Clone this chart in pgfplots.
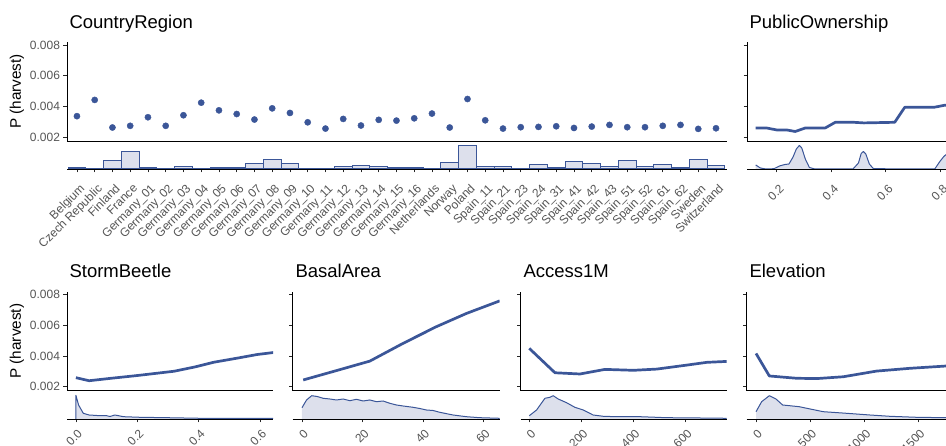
\documentclass[border=0pt]{standalone}
\usepackage{fontspec}
\setmainfont{Liberation Sans}
\usepackage{pgfplots}
\pgfplotsset{compat=1.18}
\definecolor{bl}{RGB}{59,86,152}
\definecolor{fl}{RGB}{221,224,236}
\definecolor{gr}{RGB}{85,85,85}
\pgfplotsset{
  base/.style={scale only axis, tick align=outside, major tick length=3.5pt,
    axis line style={line width=0.8pt,-}, every tick/.style={line width=0.6pt,black!85},
    ticklabel style={font=\fontsize{12}{12}\selectfont, text=gr},
    /pgf/number format/assume math mode=true, scaled ticks=false},
  mainax/.style={base, axis x line*=bottom, axis y line*=left, xtick=\empty,
    ymin=0.00174, ymax=0.0082, height=99pt,
    ytick={0.002,0.004,0.006,0.008}, yticklabels={0.002,0.004,0.006,0.008}},
  mainnl/.style={mainax, yticklabels={}},
  denax/.style={base, axis x line*=bottom, axis y line=none, ymin=0, ytick=\empty},
  denT/.style={denax, xticklabel style={yshift=-8.5pt, xshift=2pt, rotate=45, anchor=north east, inner sep=1.5pt}},
  denB/.style={denax, xticklabel style={yshift=-3.5pt, xshift=1pt, rotate=45, anchor=north east, inner sep=1.5pt}},
  ln/.style={bl, line width=2.7pt, line join=round},
  dl/.style={bl, line width=1pt, line join=round},
  df/.style={fill=fl, draw=none},
}
\begin{document}
\begin{tikzpicture}
\useasboundingbox (0,0) rectangle (946pt,446pt);
% ---------------- CountryRegion ----------------
\begin{axis}[mainax, width=660pt, at={(67pt,305pt)}, anchor=south west, xmin=-0.56, xmax=36.62]
\addplot[only marks, mark=*, mark size=3.1pt, color=bl] coordinates {
(0,0.00336)(1,0.00442)(2,0.00262)(3,0.00273)(4,0.00329)(5,0.00273)(6,0.00342)(7,0.00424)
(8,0.00374)(9,0.00350)(10,0.00314)(11,0.00387)(12,0.00357)(13,0.00296)(14,0.00255)(15,0.00318)
(16,0.00275)(17,0.00312)(18,0.00307)(19,0.00322)(20,0.00353)(21,0.00262)(22,0.00448)(23,0.00309)
(24,0.00255)(25,0.00264)(26,0.00266)(27,0.00270)(28,0.00259)(29,0.00268)(30,0.00279)(31,0.00264)
(32,0.00264)(33,0.00273)(34,0.00279)(35,0.00253)(36,0.00257)};
\end{axis}
\begin{axis}[denT, width=660pt, height=26pt, ymax=26, at={(67pt,277pt)}, anchor=south west,
  xmin=-0.56, xmax=36.62, xtick={0,...,36},
  xticklabels={Belgium,Czech Republic,Finland,France,Germany\_01,Germany\_02,Germany\_03,Germany\_04,Germany\_05,Germany\_06,Germany\_07,Germany\_08,Germany\_09,Germany\_10,Germany\_11,Germany\_12,Germany\_13,Germany\_14,Germany\_15,Germany\_16,Netherlands,Norway,Poland,Spain\_11,Spain\_21,Spain\_23,Spain\_24,Spain\_31,Spain\_41,Spain\_42,Spain\_43,Spain\_51,Spain\_52,Spain\_61,Spain\_62,Sweden,Switzerland}]
\addplot[ybar, bar width=1, draw=bl, fill=fl, line width=1pt] coordinates {
(0,1.5)(1,0.6)(2,8.8)(3,17.8)(4,1.5)(5,0.3)(6,2.9)(7,0.3)(8,1.7)(9,1.7)(10,5.5)(11,9.2)(12,5.2)
(13,0.3)(14,0.3)(15,2.3)(16,3.9)(17,2.0)(18,1.5)(19,1.7)(20,0.3)(21,6.5)(22,23.2)(23,2.9)(24,2.3)
(25,0.8)(26,4.2)(27,1.5)(28,7.2)(29,5.5)(30,2.6)(31,8.8)(32,2.9)(33,4.8)(34,1.7)(35,9.2)(36,3.6)};
\end{axis}
\node[anchor=base west, font=\fontsize{18.5}{20}\selectfont] at (66pt,417pt) {CountryRegion};
\node[rotate=90, font=\fontsize{15.3}{16}\selectfont] at (17pt,354.5pt) {P (harvest)};
% ---------------- PublicOwnership ----------------
\begin{axis}[mainnl, width=206pt, at={(747pt,305pt)}, anchor=south west, xmin=0.091, xmax=0.847]
\addplot[ln] coordinates {(0.123,0.00259)(0.163,0.00259)(0.2,0.00246)(0.237,0.00246)(0.268,0.00236)
(0.305,0.00259)(0.378,0.00259)(0.415,0.00296)(0.482,0.00296)(0.52,0.00292)(0.633,0.00296)
(0.67,0.00394)(0.778,0.00394)(0.815,0.00407)(0.85,0.00412)};
\end{axis}
\begin{axis}[denT, width=206pt, height=26pt, ymax=26, at={(747pt,277pt)}, anchor=south west,
  xmin=0.091, xmax=0.847, xtick={0.2,0.4,0.6,0.8}, xticklabels={0.2,0.4,0.6,0.8}]
\addplot[df] coordinates {(0.123,4)(0.14,1)(0.16,0)(0.19,0.3)(0.21,3)(0.23,4.5)(0.245,5)(0.26,12)
(0.272,20)(0.283,23.5)(0.292,21)(0.305,10)(0.32,1.5)(0.34,0)(0.48,0)(0.5,6)(0.51,15.5)(0.518,17.5)
(0.527,15)(0.54,5)(0.555,0.3)(0.78,0)(0.80,8)(0.815,13)(0.83,16)} \closedcycle;
\addplot[dl] coordinates {(0.123,4)(0.14,1)(0.16,0)(0.19,0.3)(0.21,3)(0.23,4.5)(0.245,5)(0.26,12)
(0.272,20)(0.283,23.5)(0.292,21)(0.305,10)(0.32,1.5)(0.34,0)(0.48,0)(0.5,6)(0.51,15.5)(0.518,17.5)
(0.527,15)(0.54,5)(0.555,0.3)(0.78,0)(0.80,8)(0.815,13)(0.83,16)};
\end{axis}
\node[anchor=base west, font=\fontsize{18.5}{20}\selectfont] at (746pt,417pt) {PublicOwnership};
% ---------------- StormBeetle ----------------
\begin{axis}[mainax, width=206pt, at={(67pt,55.3pt)}, anchor=south west, xmin=-0.029, xmax=0.642]
\addplot[ln] coordinates {(0,0.00259)(0.043,0.00239)(0.11,0.00254)(0.2,0.00273)(0.32,0.00301)
(0.39,0.0033)(0.45,0.0036)(0.53,0.00388)(0.59,0.0041)(0.643,0.00423)};
\end{axis}
\begin{axis}[denB, width=206pt, height=25pt, ymax=25, at={(67pt,27pt)}, anchor=south west,
  xmin=-0.029, xmax=0.642, xtick={0,0.2,0.4,0.6}, xticklabels={0.0,0.2,0.4,0.6}]
\addplot[df] coordinates {(0,0)(0,23.7)(0.0087,14)(0.024,5.7)(0.043,4)(0.078,3.3)(0.1,3.3)(0.111,2.5)
(0.127,4)(0.155,2.3)(0.209,1.7)(0.296,1.3)(0.405,0.7)(0.644,0.7)} \closedcycle;
\addplot[dl] coordinates {(0,0)(0,23.7)(0.0087,14)(0.024,5.7)(0.043,4)(0.078,3.3)(0.1,3.3)(0.111,2.5)
(0.127,4)(0.155,2.3)(0.209,1.7)(0.296,1.3)(0.405,0.7)(0.644,0.7)};
\end{axis}
\node[anchor=base west, font=\fontsize{18.5}{20}\selectfont] at (66pt,168pt) {StormBeetle};
\node[rotate=90, font=\fontsize{15.3}{16}\selectfont] at (17pt,104.8pt) {P (harvest)};
% ---------------- BasalArea ----------------
\begin{axis}[mainnl, width=207pt, at={(292.7pt,55.3pt)}, anchor=south west, xmin=-3.07, xmax=65.3]
\addplot[ln] coordinates {(0.4,0.00244)(11,0.00303)(22.4,0.00367)(33.4,0.00483)(44.3,0.00591)
(54.3,0.00678)(65.3,0.0076)};
\end{axis}
\begin{axis}[denB, width=207pt, height=25pt, ymax=25, at={(292.7pt,27pt)}, anchor=south west,
  xmin=-3.07, xmax=65.3, xtick={0,20,40,60}, xticklabels={0,20,40,60}]
\addplot[df] coordinates {(0,11.3)(1.5,19)(3.2,23.3)(5,22.5)(7,20.7)(9.2,20)(11.4,19)(13.6,20)
(15.8,18.3)(18,19.7)(20.2,18)(22.4,19)(24.6,17.3)(26.8,18)(29,15.7)(31.2,14)(33.4,13)(36.7,11.7)
(38.9,10.5)(41.1,9)(43.3,8.5)(45.5,6.7)(49.9,4)(54.3,2.3)(58.7,1.3)(65.3,0.7)} \closedcycle;
\addplot[dl] coordinates {(0,11.3)(1.5,19)(3.2,23.3)(5,22.5)(7,20.7)(9.2,20)(11.4,19)(13.6,20)
(15.8,18.3)(18,19.7)(20.2,18)(22.4,19)(24.6,17.3)(26.8,18)(29,15.7)(31.2,14)(33.4,13)(36.7,11.7)
(38.9,10.5)(41.1,9)(43.3,8.5)(45.5,6.7)(49.9,4)(54.3,2.3)(58.7,1.3)(65.3,0.7)};
\end{axis}
\node[anchor=base west, font=\fontsize{18.5}{20}\selectfont] at (292pt,168pt) {BasalArea};
% ---------------- Access1M ----------------
\begin{axis}[mainnl, width=206pt, at={(520.7pt,55.3pt)}, anchor=south west, xmin=-33, xmax=758]
\addplot[ln] coordinates {(0,0.0045)(98.6,0.00291)(194.6,0.00283)(290.6,0.00313)(400,0.00307)
(489.5,0.00315)(604.7,0.00341)(681.5,0.00359)(758,0.00365)};
\end{axis}
\begin{axis}[denB, width=206pt, height=25pt, ymax=25, at={(520.7pt,27pt)}, anchor=south west,
  xmin=-33, xmax=758, xtick={0,200,400,600}, xticklabels={0,200,400,600}]
\addplot[df] coordinates {(0,3.3)(28,9)(60,20.7)(79,21.7)(92,23.3)(111,20)(143,16.3)(175,11.7)
(207,9)(245,4)(284,2.7)(335,2.3)(425,2.3)(527,1.3)(655,1)(758,0.7)} \closedcycle;
\addplot[dl] coordinates {(0,3.3)(28,9)(60,20.7)(79,21.7)(92,23.3)(111,20)(143,16.3)(175,11.7)
(207,9)(245,4)(284,2.7)(335,2.3)(425,2.3)(527,1.3)(655,1)(758,0.7)};
\end{axis}
\node[anchor=base west, font=\fontsize{18.5}{20}\selectfont] at (520pt,168pt) {Access1M};
% ---------------- Elevation ----------------
\begin{axis}[mainnl, width=206pt, at={(746.7pt,55.3pt)}, anchor=south west, xmin=-86, xmax=1816]
\addplot[ln] coordinates {(0,0.00417)(123,0.0027)(376,0.00255)(560,0.00253)(806,0.00265)
(1113,0.00302)(1420,0.0032)(1754,0.00335)(1816,0.00338)};
\end{axis}
\begin{axis}[denB, width=206pt, height=25pt, ymax=25, at={(746.7pt,27pt)}, anchor=south west,
  xmin=-86, xmax=1816, xtick={0,500,1000,1500}, xticklabels={0,500,1000,1500}]
\addplot[df] coordinates {(0,7.3)(52,17.3)(123,23.3)(184,20)(246,14)(399,12.3)(500,10)(621,7.3)
(836,5.7)(1051,4)(1236,2.7)(1482,1.7)(1816,1.2)} \closedcycle;
\addplot[dl] coordinates {(0,7.3)(52,17.3)(123,23.3)(184,20)(246,14)(399,12.3)(500,10)(621,7.3)
(836,5.7)(1051,4)(1236,2.7)(1482,1.7)(1816,1.2)};
\end{axis}
\node[anchor=base west, font=\fontsize{18.5}{20}\selectfont] at (746pt,168pt) {Elevation};
\end{tikzpicture}
\end{document}
